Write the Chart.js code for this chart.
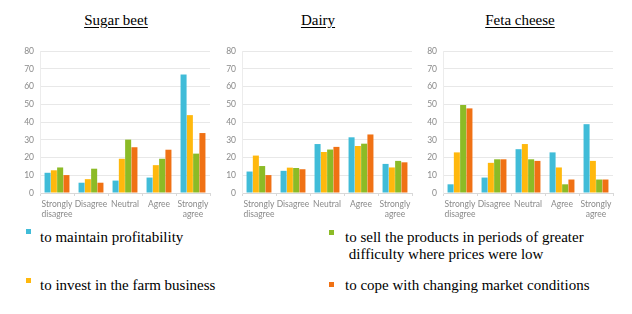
<!DOCTYPE html>
<html>
<head>
<meta charset="utf-8">
<script src="https://cdn.jsdelivr.net/npm/chart.js@4/dist/chart.umd.min.js"></script>
<style>
  body { margin: 0; background: #fff; }
  #wrap { position: relative; width: 632px; height: 314px; overflow: hidden; }
  .box { position: absolute; top: 40px; width: 194px; height: 180px; }
  .title { position: absolute; top: 12px; width: 200px; text-align: center;
    font-family: "Liberation Serif", "Times New Roman", Times, "DejaVu Serif", serif;
    font-size: 15px; text-decoration: underline; text-underline-offset: 2px; color: #000; }
  .leg { position: absolute; font-family: "Liberation Serif", "Times New Roman", Times, "DejaVu Serif", serif;
    font-size: 15px; color: #000; line-height: 17px; white-space: nowrap; }
  .sq { position: absolute; width: 5px; height: 5px; }
</style>
</head>
<body>
<div id="wrap">
  <div class="title" style="left:16px">Sugar beet</div>
  <div class="title" style="left:218px">Dairy</div>
  <div class="title" style="left:420px">Feta cheese</div>

  <div class="box" style="left:18px"><canvas id="c1"></canvas></div>
  <div class="box" style="left:220px"><canvas id="c2"></canvas></div>
  <div class="box" style="left:421px"><canvas id="c3"></canvas></div>

  <div id="legend"></div>
</div>
<script>
// categories
const categories = [['Strongly', 'disagree'], 'Disagree', 'Neutral', 'Agree', ['Strongly', 'agree']];
const yTicks = [0, 10, 20, 30, 40, 50, 60, 70, 80];

const seriesNames = [
  'to maintain profitability',
  'to invest in the farm business',
  'to sell the products in periods of greater difficulty where prices were low',
  'to cope with changing market conditions'
];
const colors = ['#40bcd8', '#ffb80d', '#8cbb26', '#f07114'];

// Sugar beet
const sugarProfit = [11.4, 5.8, 7.0, 8.7, 66.8];
const sugarInvest = [12.8, 7.8, 19.3, 15.7, 43.9];
const sugarSell   = [14.4, 13.7, 30.1, 19.3, 22.2];
const sugarCope   = [10.1, 5.8, 25.8, 24.4, 33.8];

// Dairy
const dairyProfit = [12.1, 12.5, 27.6, 31.4, 16.4];
const dairyInvest = [21.1, 14.3, 23.1, 26.5, 14.4];
const dairySell   = [15.2, 14.1, 24.5, 27.8, 18.1];
const dairyCope   = [10.1, 13.4, 26.0, 33.0, 17.3];

// Feta cheese
const fetaProfit = [4.9, 8.7, 24.7, 22.9, 38.8];
const fetaInvest = [22.9, 17.0, 27.6, 14.4, 18.1];
const fetaSell   = [49.6, 19.0, 19.0, 4.9, 7.6];
const fetaCope   = [47.7, 19.0, 18.1, 7.6, 7.6];

function makeChart(id, series) {
  const ctx = document.getElementById(id);
  return new Chart(ctx, {
    type: 'bar',
    data: {
      labels: categories,
      datasets: series.map((d, i) => ({
        label: seriesNames[i],
        data: d,
        backgroundColor: colors[i],
        borderWidth: 0,
        categoryPercentage: 0.74,
        barPercentage: 0.96
      }))
    },
    options: {
      responsive: true,
      maintainAspectRatio: false,
      animation: false,
      layout: { padding: { top: 6, right: 2, left: 0, bottom: 0 } },
      plugins: { legend: { display: false }, tooltip: { enabled: false } },
      scales: {
        x: {
          afterFit: s => { s.height = 27; },
          grid: { drawOnChartArea: false, tickLength: 3, color: '#d9d9d9' },
          border: { color: '#d9d9d9' },
          ticks: { color: '#8a8a8a', font: { family: 'Lato', size: 8.5 }, padding: 3, maxRotation: 0, autoSkip: false }
        },
        y: {
          min: 0, max: 80,
          afterFit: s => { s.width = 22; },
          afterBuildTicks: s => { s.ticks = yTicks.map(v => ({ value: v })); },
          grid: { color: '#e8e8e8', drawTicks: false },
          border: { color: '#ececec' },
          ticks: { color: '#8a8a8a', font: { family: 'Lato', size: 8.5 }, padding: 6 }
        }
      }
    }
  });
}

makeChart('c1', [sugarProfit, sugarInvest, sugarSell, sugarCope]);
makeChart('c2', [dairyProfit, dairyInvest, dairySell, dairyCope]);
makeChart('c3', [fetaProfit, fetaInvest, fetaSell, fetaCope]);

// legend (html)
const legPos = [
  { sq: [26, 229], tx: [40, 229] },
  { sq: [26, 278], tx: [40, 277] },
  { sq: [329, 230], tx: [345, 229] },
  { sq: [329, 282], tx: [345, 277] }
];
const legText = [
  'to maintain profitability',
  'to invest in the farm business',
  'to sell the products in periods of greater<br>&nbsp;difficulty where prices were low',
  'to cope with changing market conditions'
];
const leg = document.getElementById('legend');
legPos.forEach((p, i) => {
  const s = document.createElement('div');
  s.className = 'sq';
  s.style.left = p.sq[0] + 'px';
  s.style.top = p.sq[1] + 'px';
  s.style.background = colors[i];
  leg.appendChild(s);
  const t = document.createElement('div');
  t.className = 'leg';
  t.style.left = p.tx[0] + 'px';
  t.style.top = p.tx[1] + 'px';
  t.innerHTML = legText[i];
  leg.appendChild(t);
});
</script>
</body>
</html>
